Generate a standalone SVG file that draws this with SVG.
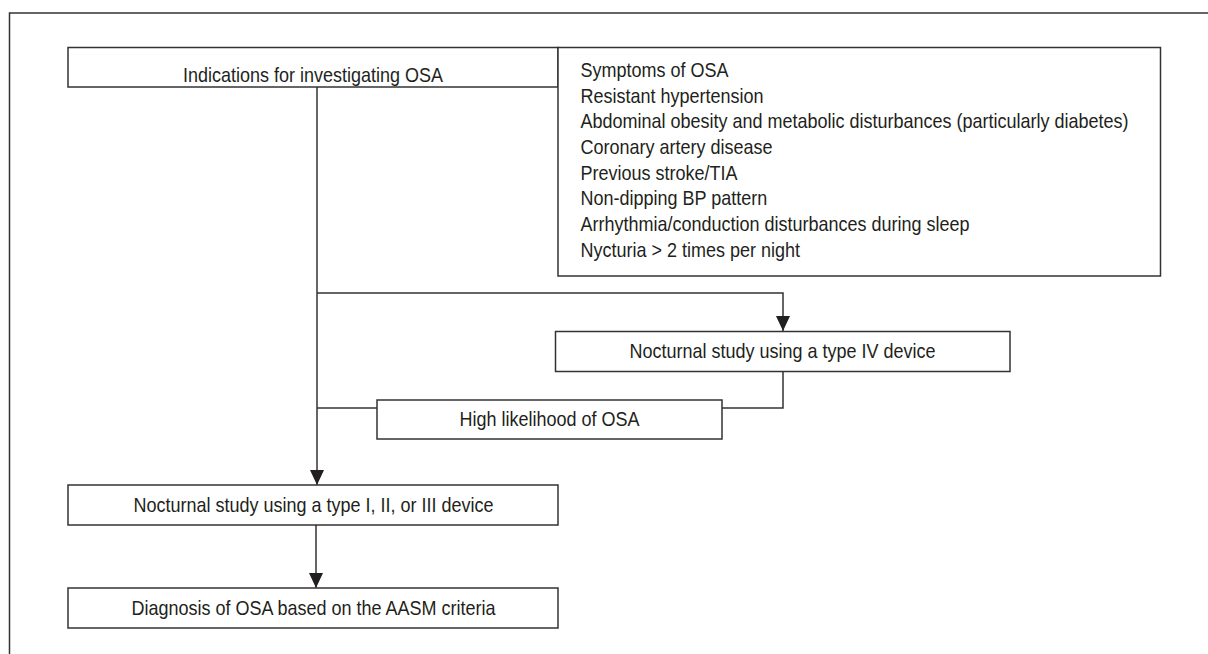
<svg xmlns="http://www.w3.org/2000/svg" width="1208" height="654" viewBox="0 0 1208 654">
<style>
.box{fill:#fff;stroke:#333;stroke-width:1.5}
.ln{fill:none;stroke:#333;stroke-width:1.5}
text{font-family:"Liberation Sans",Arial,sans-serif;font-size:20px;fill:#231f20}
.c{text-anchor:middle}
</style>
<defs>
<marker id="ah" markerUnits="userSpaceOnUse" markerWidth="16" markerHeight="16" viewBox="0 0 16 16" refX="15" refY="8" orient="auto">
<path d="M0,1 L15,8 L0,15 Z" fill="#231f20"/>
</marker>
</defs>
<rect width="1208" height="654" fill="#fff"/>
<path class="ln" d="M9.5,654 V13 H1208"/>
<g id="connectors">
<path class="ln" d="M317,87 V485" marker-end="url(#ah)"/>
<path class="ln" d="M317,293 H783 V331" marker-end="url(#ah)"/>
<path class="ln" d="M783,371.5 V408 H722"/>
<path class="ln" d="M377,408 H317"/>
<path class="ln" d="M316,525 V588" marker-end="url(#ah)"/>
</g>
<g id="indications">
<rect class="box" x="68" y="47.5" width="490" height="39.5"/>
<text class="c" transform="translate(313,82) scale(0.9,1)">Indications for investigating OSA</text>
</g>
<g id="symptoms">
<rect class="box" x="558" y="47.5" width="602.5" height="228.5"/>
<g transform="translate(580.5,0) scale(0.9,1)">
<text x="0" y="77">Symptoms of OSA</text>
<text x="0" y="102.7">Resistant hypertension</text>
<text x="0" y="128.4">Abdominal obesity and metabolic disturbances (particularly diabetes)</text>
<text x="0" y="154.1">Coronary artery disease</text>
<text x="0" y="179.8">Previous stroke/TIA</text>
<text x="0" y="205.5">Non-dipping BP pattern</text>
<text x="0" y="231.2">Arrhythmia/conduction disturbances during sleep</text>
<text x="0" y="256.9">Nycturia &gt; 2 times per night</text>
</g>
</g>
<g id="type4">
<rect class="box" x="555.5" y="331.5" width="454.5" height="40"/>
<text class="c" transform="translate(782.5,357.5) scale(0.9,1)">Nocturnal study using a type IV device</text>
</g>
<g id="highlikelihood">
<rect class="box" x="377" y="400" width="345" height="39"/>
<text class="c" transform="translate(549.5,426) scale(0.9,1)">High likelihood of OSA</text>
</g>
<g id="type123">
<rect class="box" x="68" y="485" width="490" height="40"/>
<text class="c" transform="translate(313.5,512) scale(0.9,1)">Nocturnal study using a type I, II, or III device</text>
</g>
<g id="diagnosis">
<rect class="box" x="68" y="588" width="490" height="40"/>
<text class="c" transform="translate(313.5,615) scale(0.9,1)">Diagnosis of OSA based on the AASM criteria</text>
</g>
</svg>
